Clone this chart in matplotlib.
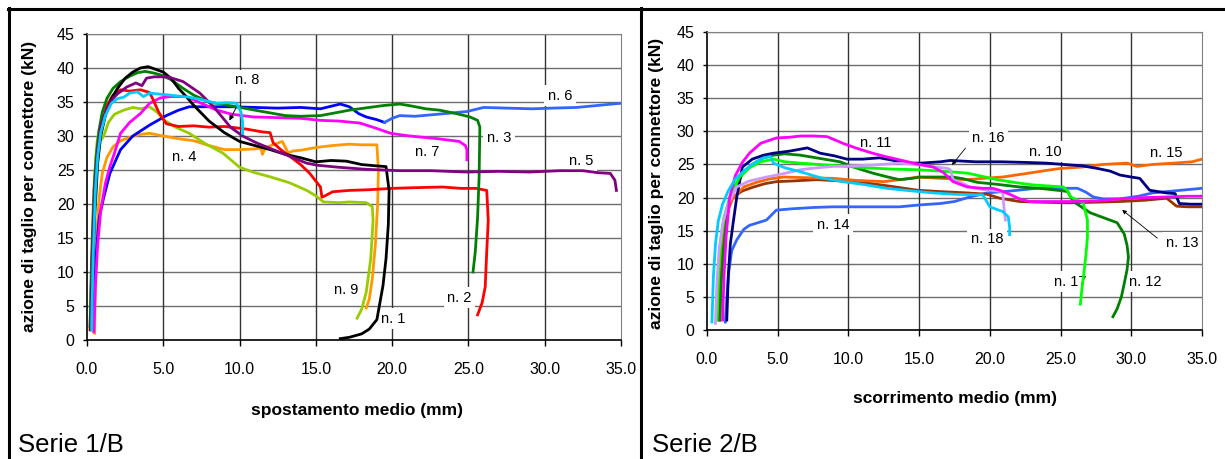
import matplotlib
matplotlib.use("Agg")
import matplotlib.pyplot as plt
from matplotlib.lines import Line2D

plt.rcParams['font.family'] = ['Liberation Sans', 'DejaVu Sans']

# ---------------- Serie 1/B : shear force vs mean displacement ----------------
s1_x = [0.25, 0.35, 0.5, 0.7, 0.9, 1.2, 1.6, 2.0, 2.5, 3.0, 3.5, 4.0, 4.5, 5.0, 5.5, 6.0, 6.5, 7.0, 8.0, 9.0,
        10.0, 11.0, 12.0, 13.0, 14.0, 15.0, 16.0, 17.0, 18.0, 19.0, 19.6, 19.8, 19.75, 19.6, 19.4, 19.0, 18.5,
        18.0, 17.2, 16.6]
s1_y = [1.5, 8, 18, 26, 30, 33, 35.5, 37, 38.5, 39.4, 40.0, 40.2, 39.8, 39.4, 38.5, 37.0, 35.8, 34.5, 32.2, 30.5,
        29.2, 28.6, 28.0, 27.3, 26.8, 26.2, 26.4, 26.3, 25.8, 25.6, 25.5, 22, 17, 12, 8, 3, 1.6, 0.9, 0.4, 0.2]

s2_x = [0.2, 0.3, 0.45, 0.6, 0.8, 1.0, 1.3, 1.7, 2.2, 2.8, 3.5, 4.1, 4.3, 4.7, 5.2, 6.0, 7.0, 8.0, 9.0, 9.8,
        10.5, 11.5, 12.0, 12.2, 12.7, 13.3, 14.0, 14.6, 15.3, 15.4, 15.6, 16.1, 17.2, 18.5, 20.0, 21.5, 23.3,
        24.5, 25.5, 26.2, 26.3, 26.2, 26.1, 25.9, 25.6]
s2_y = [1.5, 10, 20, 25, 29, 32, 34.5, 36, 36.8, 36.6, 36.8, 36.4, 35.5, 33.5, 31.8, 31.4, 31.5, 31.3, 31.4, 31.2,
        31.0, 30.6, 30.5, 29.0, 28.0, 27.0, 25.8, 24.5, 22.5, 21.0, 21.2, 21.8, 22.0, 22.1, 22.3, 22.4, 22.5,
        22.3, 22.3, 22.0, 17.6, 13, 7.8, 5.5, 3.7]

s3_x = [0.2, 0.3, 0.45, 0.6, 0.8, 1.0, 1.3, 1.7, 2.2, 2.8, 3.3, 3.8, 4.3, 4.8, 5.5, 6.3, 7.0, 8.0, 9.0, 9.8,
        11.0, 12.0, 13.0, 14.0, 15.3, 16.5, 17.2, 18.5, 19.5, 20.5, 21.3, 22.2, 23.1, 24.2, 25.1, 25.6, 25.75,
        25.7, 25.6, 25.45, 25.3]
s3_y = [2, 12, 22, 27, 31, 33.5, 35.5, 37, 38, 38.8, 39.3, 39.5, 39.3, 39.0, 38.3, 37.0, 36.0, 35.0, 34.6, 34.3,
        33.8, 33.4, 33.0, 32.9, 33.0, 33.5, 33.8, 34.2, 34.5, 34.7, 34.4, 34.0, 33.8, 33.3, 32.8, 32.3, 31.3,
        24, 18, 13, 10]

s4_x = [0.5, 0.55, 0.65, 0.8, 1.0, 1.3, 1.7, 2.2, 2.8, 3.4, 4.1, 5.0, 6.0, 7.0, 8.0, 9.0, 10.0, 11.0, 11.4,
        11.5, 11.7, 12.3, 12.8, 13.2, 13.5, 14.0, 15.0, 16.1, 17.2, 18.0, 19.0, 19.1, 19.05, 18.9, 18.7, 18.5, 18.3]
s4_y = [1, 8, 16, 21, 24.5, 26.8, 28.4, 29.3, 29.8, 30.2, 30.4, 30.0, 29.6, 29.3, 28.6, 28.0, 28.0, 28.1, 28.2,
        27.3, 28.3, 28.8, 29.2, 27.5, 27.8, 27.9, 28.3, 28.6, 28.8, 28.7, 28.7, 25, 20, 14, 9, 6, 4.7]

s5_x = [0.25, 0.35, 0.5, 0.7, 0.9, 1.3, 1.7, 2.0, 2.6, 3.2, 3.6, 3.9, 4.4, 5.3, 6.3, 7.4, 8.3, 9.4, 10.2, 11.1,
        12.2, 13.3, 14.4, 15.1, 16.5, 18.3, 20.5, 22.5, 24.9, 27.0, 29.0, 31.0, 32.5, 33.5, 34.3, 34.6, 34.7]
s5_y = [2, 12, 22, 28, 31.5, 34, 35.5, 36.2, 37.2, 37.8, 37.4, 38.5, 38.7, 38.7, 38.0, 36.3, 34.3, 31.3, 30.0,
        29.0, 28.0, 27.0, 26.0, 25.7, 25.4, 25.1, 24.9, 24.9, 24.7, 24.8, 24.7, 24.9, 24.9, 24.6, 24.5, 23.5, 22]

s6a_x = [0.4, 0.5, 0.65, 0.8, 1.1, 1.5, 2.2, 3.0, 4.1, 5.2, 6.0, 6.7, 8.0, 9.6, 11.0, 12.5, 14.0, 15.3, 16.6,
         17.2, 17.8, 18.3, 19.0, 19.5]
s6a_y = [1.5, 8, 14, 18, 21, 24.5, 28, 30, 31.6, 33.0, 33.8, 34.3, 34.3, 34.3, 34.2, 34.1, 34.2, 34.0, 34.7,
         34.3, 33.3, 32.8, 32.4, 32.0]
s6b_x = [19.5, 20.0, 20.5, 21.5, 23.0, 24.9, 26.0, 27.5, 29.2, 30.5, 32.1, 33.5, 34.9, 35.0]
s6b_y = [32.0, 32.6, 33.0, 32.9, 33.2, 33.6, 34.2, 34.1, 34.0, 34.1, 34.2, 34.5, 34.8, 34.8]

s7_x = [0.45, 0.55, 0.7, 0.9, 1.2, 1.5, 1.8, 2.2, 2.8, 3.5, 4.1, 4.8, 5.5, 6.5, 7.5, 8.5, 9.5, 10.9, 12.5, 14.0,
        15.3, 16.5, 17.9, 19.0, 19.9, 20.8, 21.6, 23.0, 24.4, 24.8, 24.9, 24.9]
s7_y = [1.2, 8, 14, 19, 23, 25.5, 27.5, 30.4, 32, 33.3, 34.8, 35.6, 35.8, 35.8, 34.8, 33.8, 33.2, 32.8, 32.7,
        32.6, 32.3, 32.2, 31.9, 31.1, 30.4, 30.1, 29.9, 29.6, 29.2, 28.6, 28.0, 26.5]

s8_x = [0.3, 0.4, 0.55, 0.7, 0.9, 1.2, 1.6, 2.0, 2.4, 2.8, 3.3, 3.7, 4.1, 4.6, 5.5, 6.7, 7.6, 8.5, 9.2, 9.8,
        10.1, 10.2, 10.2]
s8_y = [1.5, 12, 22, 27, 30.5, 33, 34.8, 35.5, 35.7, 36.3, 36.5, 35.8, 36.3, 36.2, 36.0, 35.7, 35.3, 34.8, 34.9,
        34.8, 33.5, 32, 30.4]

s9_x = [0.3, 0.4, 0.5, 0.65, 0.8, 0.95, 1.1, 1.4, 1.8, 2.4, 3.0, 3.5, 4.1, 4.6, 5.0, 5.8, 6.7, 7.8, 8.9, 10.0,
        11.0, 12.0, 13.3, 14.4, 15.0, 15.5, 16.5, 17.2, 18.3, 18.7, 18.75, 18.6, 18.3, 18.0, 17.7]
s9_y = [2, 15, 24, 29, 31, 29.5, 30, 32, 33.2, 33.8, 34.2, 34.0, 34.3, 33.5, 32.4, 31.3, 30.4, 28.8, 27.5, 25.4,
        24.6, 24.0, 23.1, 22.0, 21.2, 20.3, 20.2, 20.3, 20.2, 19.6, 17.6, 12, 7, 4.5, 3.2]

# ---------------- Serie 2/B : shear force vs mean slip ----------------
s10_x = [1.4, 1.5, 1.65, 1.85, 2.1, 2.5, 3.2, 4.0, 4.7, 5.8, 7.1, 8.0, 9.0, 9.9, 11.0, 12.2, 13.2, 14.1, 15.1,
         16.5, 17.2, 19.0, 20.8, 22.6, 24.0, 25.2, 26.5, 27.6, 28.5, 29.2, 30.0, 30.6, 31.3, 32.5, 33.1, 33.4,
         34.2, 35.0]
s10_y = [1.5, 8, 13, 16.2, 20, 24.6, 25.8, 26.4, 26.7, 27.0, 27.5, 26.7, 26.3, 25.8, 25.8, 26.0, 25.6, 25.2,
         25.2, 25.4, 25.6, 25.4, 25.4, 25.3, 25.2, 25.0, 24.8, 24.4, 24.0, 23.4, 23.1, 22.9, 21.1, 20.7, 20.6,
         19.1, 19.0, 19.0]

s11_x = [1.1, 1.2, 1.35, 1.6, 2.0, 2.5, 3.0, 3.8, 4.9, 5.8, 6.6, 7.5, 8.5, 9.6, 10.5, 11.7, 12.6, 13.6, 14.8,
         16.0, 16.7, 17.4, 18.4, 19.5, 20.2, 20.7, 21.4, 22.1, 22.8, 24.0, 25.7, 27.5, 29.2, 31.0, 32.7, 34.0, 35.0]
s11_y = [1.5, 8, 14, 20, 23.3, 25.3, 26.7, 28.2, 29.0, 29.1, 29.3, 29.3, 29.2, 28.2, 27.5, 26.7, 26.2, 25.7,
         25.1, 24.6, 23.8, 22.4, 21.6, 21.4, 21.4, 21.1, 20.5, 19.8, 19.4, 19.4, 19.4, 19.5, 19.8, 20.0, 20.1,
         20.2, 20.2]

s12_x = [0.9, 1.0, 1.15, 1.35, 1.6, 2.0, 2.5, 3.2, 4.0, 4.7, 5.5, 6.6, 8.0, 9.4, 10.5, 11.7, 12.6, 13.6, 14.5,
         15.1, 16.0, 17.4, 18.2, 19.1, 20.5, 22.1, 23.5, 25.2, 25.5, 25.9, 27.1, 29.0, 29.5, 29.7, 29.8, 29.7,
         29.5, 29.3, 29.0, 28.7]
s12_y = [1.5, 7, 12, 16, 19.5, 21.8, 23.5, 25.0, 26.0, 26.4, 26.6, 26.4, 25.9, 25.4, 24.5, 23.7, 23.2, 22.7,
         22.9, 23.1, 23.1, 23.1, 22.8, 22.3, 22.0, 21.6, 21.4, 21.0, 20.9, 19.4, 17.7, 16.2, 14.5, 12.8, 11.0,
         9.1, 7, 5, 3.2, 2]

s13_x = [0.9, 1.0, 1.15, 1.4, 1.85, 2.5, 3.3, 4.1, 4.9, 6.0, 7.8, 9.5, 11.3, 13.0, 14.9, 16.5, 18.4, 19.8, 20.7,
         22.1, 23.5, 25.7, 27.5, 29.2, 31.0, 32.5, 33.2, 34.0, 35.0]
s13_y = [1.5, 8, 14, 18, 20.1, 21, 21.6, 22.1, 22.4, 22.5, 22.7, 22.5, 22.2, 21.7, 21.1, 20.9, 20.7, 20.5, 19.9,
         19.4, 19.3, 19.2, 19.3, 19.4, 19.6, 19.9, 18.7, 18.6, 18.6]

s14_x = [1.3, 1.4, 1.55, 1.75, 2.1, 2.6, 3.0, 4.2, 4.9, 6.0, 7.5, 8.9, 10.5, 12.0, 13.6, 15.1, 16.5, 17.5, 18.6,
         19.8, 21.5, 23.3, 24.5, 26.2, 26.8, 27.3, 28.0, 29.2, 30.5, 31.5, 33.0, 35.0]
s14_y = [1.2, 5, 9, 12, 13.6, 15.2, 15.8, 16.6, 18.1, 18.3, 18.5, 18.6, 18.6, 18.6, 18.6, 18.9, 19.1, 19.4, 20.1,
         20.7, 21.0, 21.4, 21.4, 21.4, 20.8, 20.1, 19.8, 19.8, 20.2, 20.7, 21.0, 21.4]

s15_x = [0.8, 0.9, 1.05, 1.3, 1.8, 2.6, 3.5, 4.4, 5.4, 7.0, 8.9, 10.5, 12.5, 14.0, 14.9, 16.5, 18.4, 19.5, 20.9,
         22.8, 24.0, 25.0, 26.5, 28.0, 29.7, 30.4, 31.5, 33.0, 34.3, 35.0]
s15_y = [1.5, 8, 13, 17, 19.8, 21.6, 22.3, 22.8, 23.1, 23.0, 22.9, 22.6, 22.4, 22.8, 23.1, 22.9, 22.7, 22.9,
         23.1, 23.7, 24.1, 24.4, 24.6, 25.0, 25.2, 24.7, 25.0, 25.2, 25.4, 25.8]

s16_x = [0.6, 0.7, 0.85, 1.1, 1.5, 2.1, 3.0, 4.2, 5.4, 6.6, 7.8, 8.9, 10.3, 11.7, 13.6, 15.1, 16.2, 17.0, 17.2,
         17.4, 18.0, 18.6, 19.5, 20.5, 20.9, 21.0, 21.1]
s16_y = [1, 7, 12, 16, 19, 21.6, 22.5, 23.1, 23.6, 24.2, 24.5, 24.7, 24.8, 24.9, 25.2, 24.9, 24.6, 24.4, 24.2,
         22.7, 22.2, 21.6, 21.2, 21.0, 20.9, 18.5, 16.6]

s17_x = [0.7, 0.8, 0.95, 1.2, 1.6, 2.3, 3.0, 3.8, 4.7, 5.5, 6.6, 8.5, 11.3, 13.0, 14.9, 16.5, 18.4, 20.5, 22.0,
         23.1, 24.5, 25.2, 25.5, 25.7, 26.6, 26.9, 26.9, 26.8, 26.7, 26.5, 26.4]
s17_y = [1.5, 8, 13, 17, 20, 23.1, 24.5, 25.4, 25.8, 25.4, 25.2, 24.9, 24.5, 24.3, 24.2, 24.0, 23.7, 22.7, 22.2,
         21.9, 21.7, 21.6, 21.0, 20.1, 19.2, 16.6, 14, 11.5, 9.5, 6, 3.9]

s18_x = [0.35, 0.45, 0.6, 0.8, 1.1, 1.5, 2.0, 2.7, 3.4, 4.0, 4.5, 4.7, 5.5, 6.6, 8.0, 9.6, 11.0, 12.7, 14.5,
         16.0, 17.5, 19.5, 20.0, 20.5, 20.9, 21.3, 21.4, 21.4]
s18_y = [1.2, 8, 13, 16.5, 19, 21, 22.8, 24.2, 25.3, 26.0, 26.2, 25.2, 24.5, 23.9, 23.0, 22.4, 22.0, 21.4, 21.0,
         20.7, 20.5, 20.4, 18.6, 18.2, 17.9, 17.1, 15.5, 14.4]

# axis ranges / ticks
x_ticks = [0, 5, 10, 15, 20, 25, 30, 35]
y_ticks = [0, 5, 10, 15, 20, 25, 30, 35, 40, 45]

series_left = [
    (s4_x, s4_y, '#ff9900'),
    (s9_x, s9_y, '#99cc00'),
    (s6a_x, s6a_y, '#0000ff'),
    (s6b_x, s6b_y, '#3366ff'),
    (s7_x, s7_y, '#ff00ff'),
    (s2_x, s2_y, '#ff0000'),
    (s3_x, s3_y, '#008000'),
    (s1_x, s1_y, '#000000'),
    (s5_x, s5_y, '#800080'),
    (s8_x, s8_y, '#00ccff'),
]

series_right = [
    (s14_x, s14_y, '#3366ff'),
    (s13_x, s13_y, '#993300'),
    (s15_x, s15_y, '#ff6600'),
    (s12_x, s12_y, '#008000'),
    (s10_x, s10_y, '#000080'),
    (s17_x, s17_y, '#00ff00'),
    (s16_x, s16_y, '#cc99ff'),
    (s11_x, s11_y, '#ff00ff'),
    (s18_x, s18_y, '#00ccff'),
]

labels_left = [
    ('n. 8', 10.5, 38.2), ('n. 4', 6.4, 26.9), ('n. 6', 31.0, 35.9), ('n. 3', 27.0, 29.7),
    ('n. 7', 22.3, 27.7), ('n. 5', 32.4, 26.3), ('n. 9', 17.0, 7.4), ('n. 2', 24.4, 6.2),
    ('n. 1', 20.1, 3.1),
]
labels_right = [
    ('n. 11', 11.9, 28.2), ('n. 16', 19.9, 29.0), ('n. 10', 23.9, 26.9), ('n. 15', 32.5, 26.7),
    ('n. 14', 8.9, 15.9), ('n. 18', 19.8, 13.7), ('n. 13', 33.6, 13.2), ('n. 17', 25.7, 7.3),
    ('n. 12', 31.0, 7.3),
]

W, H = 1225, 459
fig = plt.figure(figsize=(W / 100, H / 100), dpi=100)


def make_axes(px_left, px_right, px_top, px_bottom):
    return fig.add_axes([px_left / W, 1 - px_bottom / H, (px_right - px_left) / W, (px_bottom - px_top) / H])


def style_axes(ax):
    ax.set_xlim(0, 35)
    ax.set_ylim(0, 45)
    ax.set_xticks(x_ticks)
    ax.set_yticks(y_ticks)
    ax.set_xticklabels([f'{v:.1f}' for v in x_ticks])
    ax.set_yticklabels([str(v) for v in y_ticks])
    for v in y_ticks[1:]:
        ax.axhline(v, color='#6e6e6e', lw=1.0, zorder=0.5)
    for v in x_ticks[1:-1]:
        ax.axvline(v, color='#333333', lw=1.0, zorder=0.5)
    ax.spines['left'].set_color('black')
    ax.spines['bottom'].set_color('black')
    ax.spines['left'].set_linewidth(1.2)
    ax.spines['bottom'].set_linewidth(1.2)
    ax.spines['top'].set_color('#808080')
    ax.spines['right'].set_color('#808080')
    ax.tick_params(axis='x', direction='out', length=4, width=1, pad=12, labelsize=11.5)
    ax.tick_params(axis='y', direction='out', length=3, width=1, pad=6, labelsize=11.5)


def draw_labels(ax, labels):
    # label boxes hide the grid but sit beneath the curves
    for txt, x, y in labels:
        ax.text(x, y, txt, fontsize=10.5, ha='center', va='center', zorder=2,
                bbox=dict(facecolor='white', edgecolor='none', pad=2.5))


ax1 = make_axes(87, 621, 34, 340)
style_axes(ax1)
for xs, ys, c in series_left:
    ax1.plot(xs, ys, color=c, lw=2.0, solid_joinstyle='round', zorder=3)
draw_labels(ax1, labels_left)
ax1.annotate('', xy=(9.25, 31.9), xytext=(9.85, 34.5),
             arrowprops=dict(arrowstyle='-|>', lw=0.7, color='black', mutation_scale=7), zorder=6)

ax2 = make_axes(707, 1202, 32, 330)
style_axes(ax2)
for xs, ys, c in series_right:
    ax2.plot(xs, ys, color=c, lw=2.0, solid_joinstyle='round', zorder=3)
draw_labels(ax2, labels_right)
ax2.annotate('', xy=(17.2, 24.6), xytext=(18.4, 27.8),
             arrowprops=dict(arrowstyle='-|>', lw=0.6, color='black', mutation_scale=6), zorder=6)
ax2.annotate('', xy=(29.2, 18.4), xytext=(32.0, 13.6),
             arrowprops=dict(arrowstyle='-|>', lw=0.6, color='black', mutation_scale=6), zorder=6)

# axis titles
ylab = 'azione di taglio per connettore (kN)'
fig.text(30 / W, 1 - 186 / H, ylab, rotation=90, ha='center', va='center', fontsize=12.5, fontweight='bold')
fig.text(656 / W, 1 - 183 / H, ylab, rotation=90, ha='center', va='center', fontsize=12.5, fontweight='bold')
fig.text(357 / W, 1 - 411 / H, 'spostamento medio (mm)', ha='center', va='center', fontsize=12.5, fontweight='bold')
fig.text(955 / W, 1 - 398 / H, 'scorrimento medio (mm)', ha='center', va='center', fontsize=12.5, fontweight='bold')

# panel captions
fig.text(18 / W, 1 - 452 / H, 'Serie 1/B', ha='left', va='baseline', fontsize=18.5)
fig.text(652 / W, 1 - 452 / H, 'Serie 2/B', ha='left', va='baseline', fontsize=18.5)

# frame around the two panels
for (x0, y0, x1, y1) in [(8, 8.5, W, 8.5), (8.5, 8, 8.5, H), (641.5, 8, 641.5, H)]:
    fig.add_artist(Line2D([x0 / W, x1 / W], [1 - y0 / H, 1 - y1 / H], color='black', lw=2.2,
                          transform=fig.transFigure))

fig.savefig('out.png', dpi=100)
